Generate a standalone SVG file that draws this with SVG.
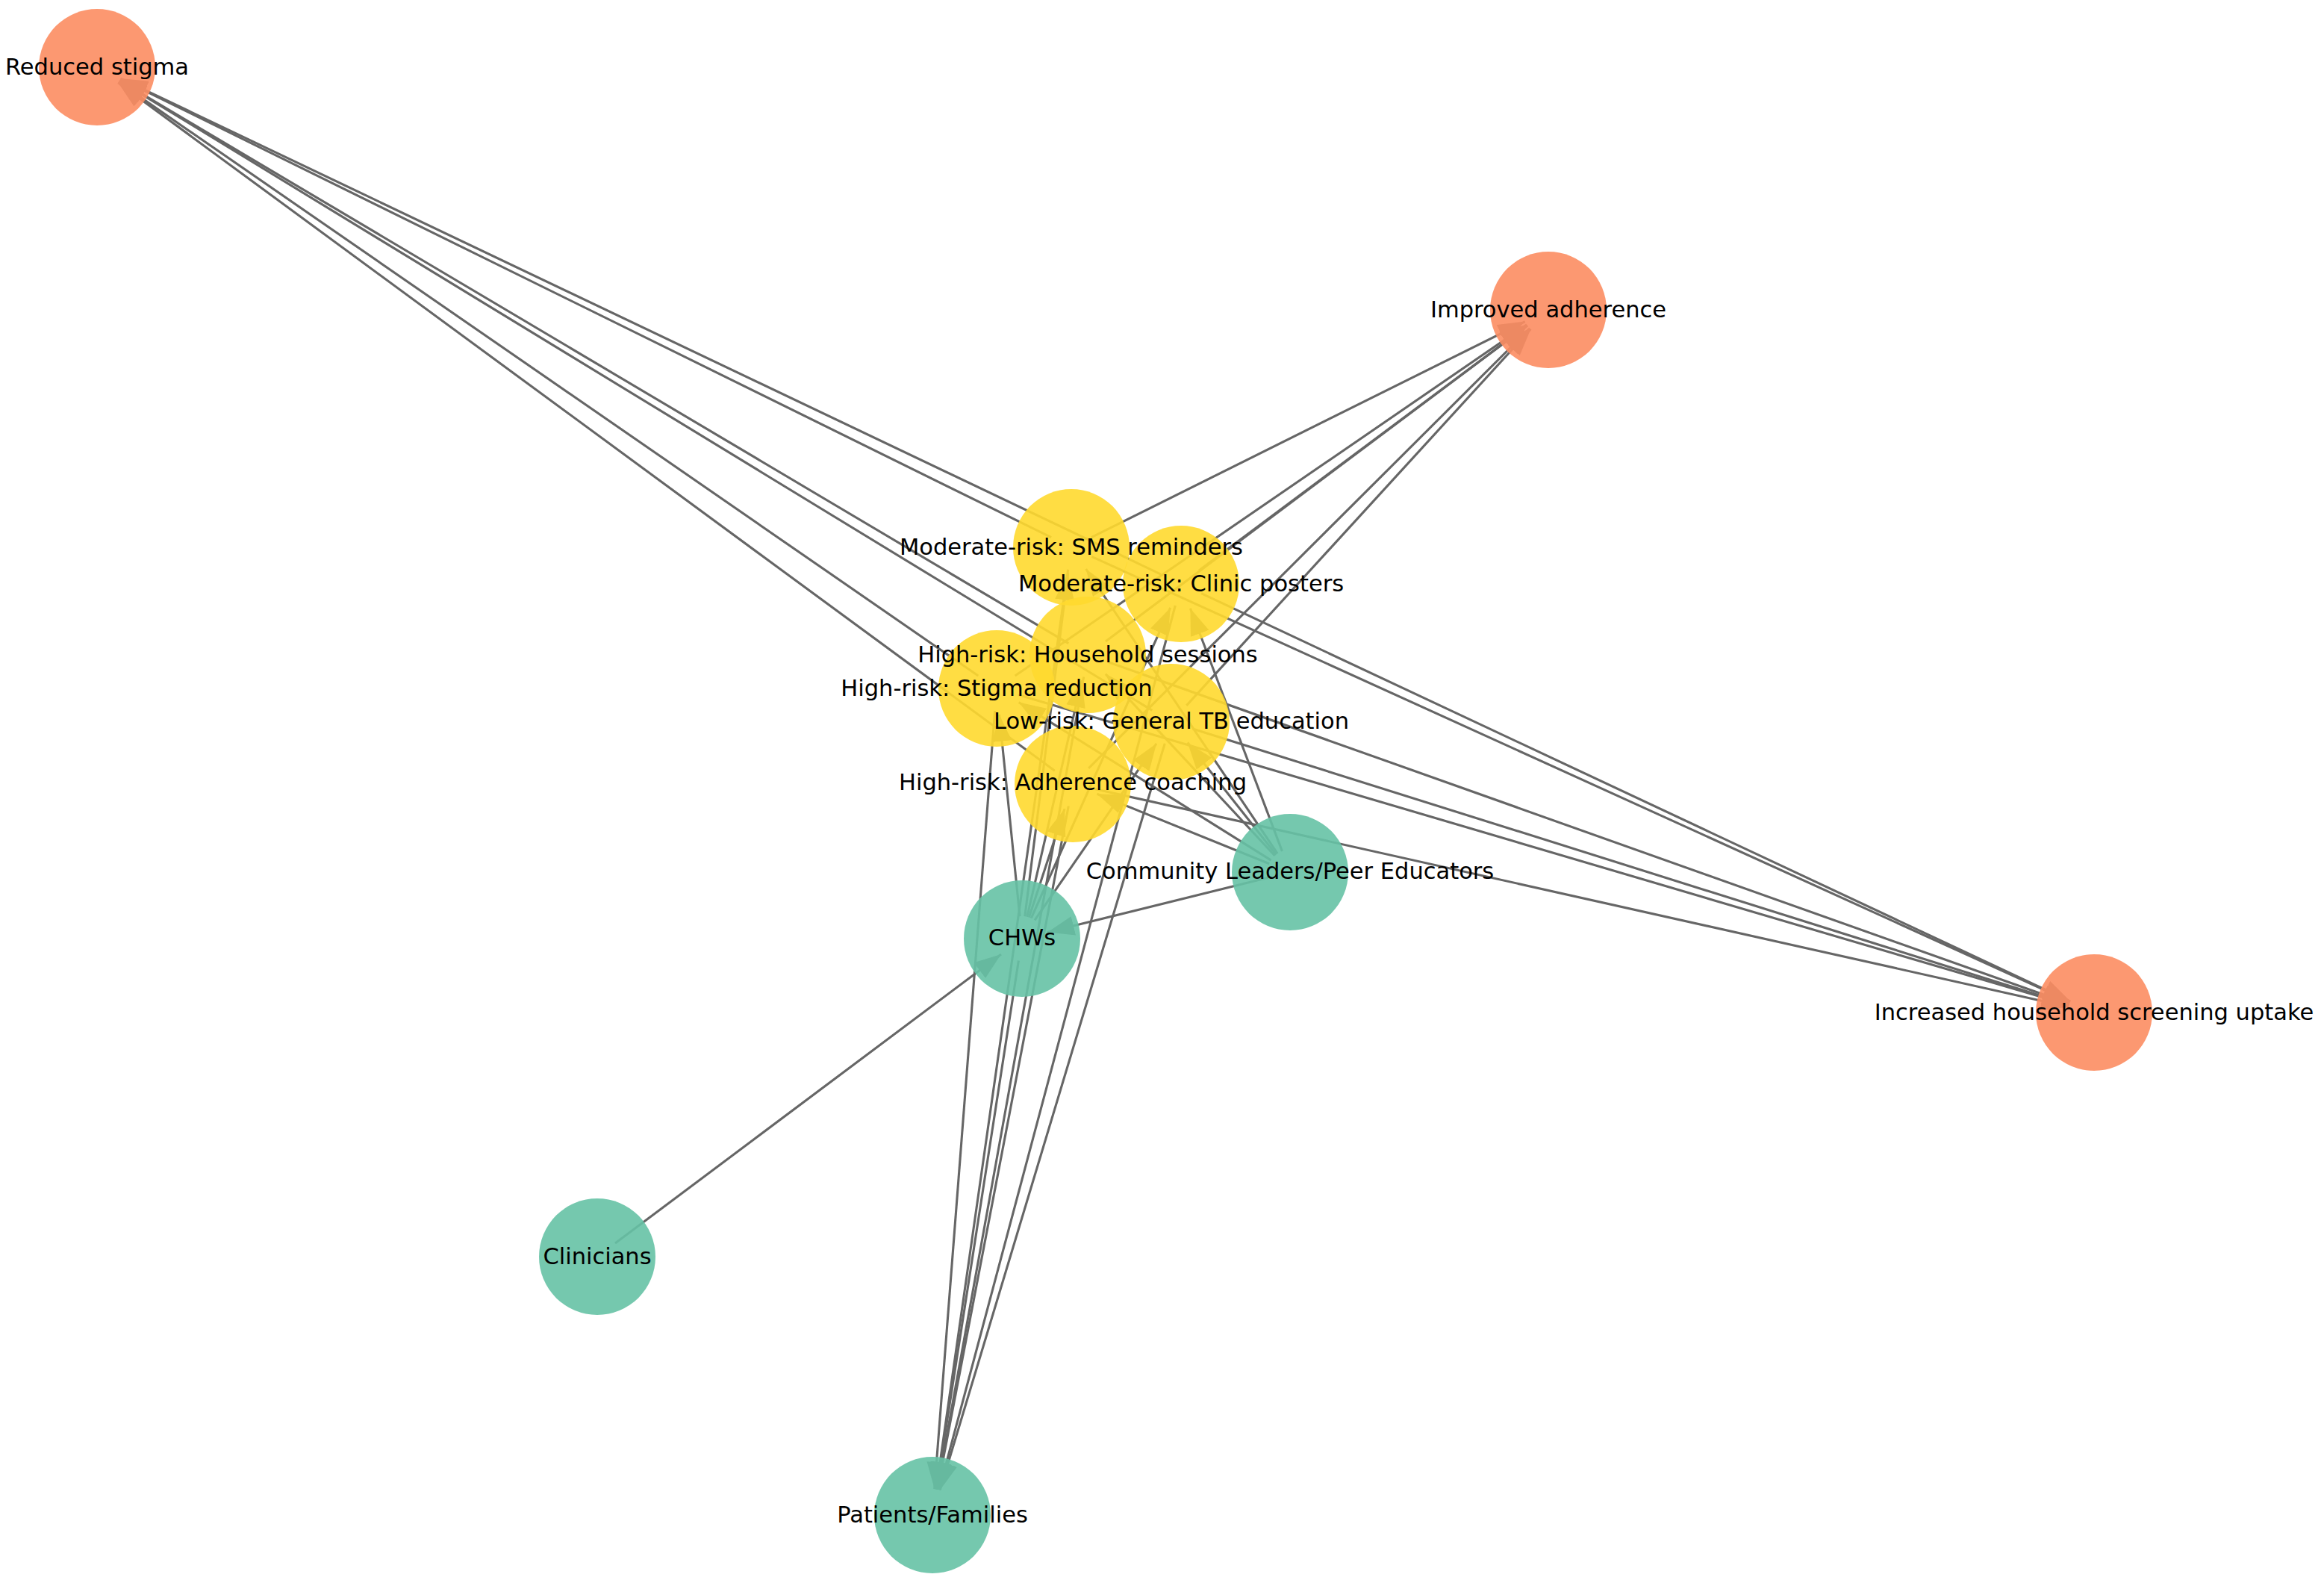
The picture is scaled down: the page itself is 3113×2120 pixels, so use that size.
<svg xmlns="http://www.w3.org/2000/svg" width="3113" height="2120" viewBox="0 0 3113 2120">
<style>
.edge{stroke:#666666;stroke-width:3.1;fill:none;marker-end:url(#arr)}
.out{fill:#fc8d62;fill-opacity:0.9}
.int{fill:#ffd92f;fill-opacity:0.9}
.stk{fill:#66c2a5;fill-opacity:0.9}
.lbl{font-family:"DejaVu Sans","Liberation Sans",sans-serif;font-size:30.5px;fill:#000;text-anchor:middle}
</style>
<defs>
<marker id="arr" markerUnits="userSpaceOnUse" markerWidth="38" markerHeight="28" refX="36" refY="13" orient="auto" viewBox="0 0 38 28">
<path d="M0,0 L36,13 L0,26 z" fill="#666666"/>
</marker>
</defs>
<rect width="3113" height="2120" fill="#ffffff"/>
<g id="edges">
<line class="edge" x1="1408.1" y1="719.7" x2="161.4" y2="105.5"/>
<line class="edge" x1="1554.9" y1="769.1" x2="161.6" y2="105.1"/>
<line class="edge" x1="1431.2" y1="861.7" x2="160.1" y2="107.9"/>
<line class="edge" x1="1310.3" y1="905.0" x2="158.8" y2="109.9"/>
<line class="edge" x1="1543.4" y1="951.4" x2="159.9" y2="108.2"/>
<line class="edge" x1="1412.8" y1="1032.2" x2="158.2" y2="110.7"/>
<line class="edge" x1="1461.9" y1="719.6" x2="2042.7" y2="430.6"/>
<line class="edge" x1="1606.0" y1="764.1" x2="2045.9" y2="435.9"/>
<line class="edge" x1="1481.0" y1="859.0" x2="2046.0" y2="436.0"/>
<line class="edge" x1="1359.7" y1="905.0" x2="2045.1" y2="434.8"/>
<line class="edge" x1="1589.3" y1="944.9" x2="2050.4" y2="440.8"/>
<line class="edge" x1="1458.2" y1="1028.8" x2="2049.2" y2="439.7"/>
<line class="edge" x1="1462.3" y1="745.4" x2="2773.1" y2="1341.5"/>
<line class="edge" x1="1609.2" y1="794.7" x2="2773.3" y2="1341.1"/>
<line class="edge" x1="1485.3" y1="887.0" x2="2772.0" y2="1344.3"/>
<line class="edge" x1="1363.8" y1="930.5" x2="2771.4" y2="1346.1"/>
<line class="edge" x1="1597.6" y1="976.0" x2="2771.6" y2="1345.5"/>
<line class="edge" x1="1466.3" y1="1056.5" x2="2770.8" y2="1348.4"/>
<line class="edge" x1="1430.7" y1="762.7" x2="1254.0" y2="1994.4"/>
<line class="edge" x1="1574.3" y1="811.0" x2="1258.0" y2="1995.2"/>
<line class="edge" x1="1451.7" y1="906.5" x2="1255.2" y2="1994.6"/>
<line class="edge" x1="1332.7" y1="951.9" x2="1251.7" y2="1994.1"/>
<line class="edge" x1="1560.3" y1="995.7" x2="1259.1" y2="1995.5"/>
<line class="edge" x1="1431.3" y1="1079.5" x2="1255.6" y2="1994.6"/>
<line class="edge" x1="1372.8" y1="1227.2" x2="1430.6" y2="767.7"/>
<line class="edge" x1="1381.3" y1="1229.6" x2="1567.7" y2="813.9"/>
<line class="edge" x1="1375.8" y1="1227.8" x2="1449.1" y2="911.1"/>
<line class="edge" x1="1366.0" y1="1227.2" x2="1338.5" y2="956.8"/>
<line class="edge" x1="1386.0" y1="1232.3" x2="1549.1" y2="995.8"/>
<line class="edge" x1="1378.4" y1="1228.5" x2="1426.1" y2="1083.3"/>
<line class="edge" x1="1711.2" y1="1143.1" x2="1454.6" y2="762.0"/>
<line class="edge" x1="1717.4" y1="1139.9" x2="1594.4" y2="814.7"/>
<line class="edge" x1="1707.6" y1="1146.0" x2="1480.9" y2="902.6"/>
<line class="edge" x1="1702.6" y1="1152.1" x2="1364.7" y2="940.6"/>
<line class="edge" x1="1709.4" y1="1144.5" x2="1590.7" y2="994.5"/>
<line class="edge" x1="1700.2" y1="1156.7" x2="1469.4" y2="1063.2"/>
<line class="edge" x1="824.0" y1="1665.0" x2="1341.0" y2="1278.0"/>
<line class="edge" x1="1698.9" y1="1175.2" x2="1403.0" y2="1248.6"/>
<line class="edge" x1="1364.4" y1="1286.6" x2="1254.4" y2="1994.4"/>
</g>
<g id="node-reduced-stigma"><circle class="out" cx="130" cy="90" r="78"/><text class="lbl" x="130" y="100">Reduced stigma</text></g>
<g id="node-improved-adherence"><circle class="out" cx="2074" cy="415" r="78"/><text class="lbl" x="2074" y="425">Improved adherence</text></g>
<g id="node-increased-household"><circle class="out" cx="2805" cy="1356" r="78"/><text class="lbl" x="2805" y="1366">Increased household screening uptake</text></g>
<g id="node-sms"><circle class="int" cx="1435" cy="733" r="78"/></g>
<g id="node-clinic-posters"><circle class="int" cx="1582" cy="782" r="78"/></g>
<g id="node-household-sessions"><circle class="int" cx="1457" cy="877" r="78"/></g>
<g id="node-stigma-reduction"><circle class="int" cx="1335" cy="922" r="78"/></g>
<g id="node-general-tb"><circle class="int" cx="1569" cy="967" r="78"/></g>
<g id="node-adherence-coaching"><circle class="int" cx="1437" cy="1050" r="78"/></g>
<g id="node-community-leaders"><circle class="stk" cx="1728" cy="1168" r="78"/></g>
<g id="node-chws"><circle class="stk" cx="1369" cy="1257" r="78"/></g>
<g id="node-clinicians"><circle class="stk" cx="800" cy="1683" r="78"/><text class="lbl" x="800" y="1693">Clinicians</text></g>
<g id="node-patients"><circle class="stk" cx="1249" cy="2029" r="78"/><text class="lbl" x="1249" y="2039">Patients/Families</text></g>
<g id="labels">
<text class="lbl" x="1435" y="743">Moderate-risk: SMS reminders</text>
<text class="lbl" x="1582" y="792">Moderate-risk: Clinic posters</text>
<text class="lbl" x="1457" y="887">High-risk: Household sessions</text>
<text class="lbl" x="1335" y="932">High-risk: Stigma reduction</text>
<text class="lbl" x="1569" y="976">Low-risk: General TB education</text>
<text class="lbl" x="1437" y="1058">High-risk: Adherence coaching</text>
<text class="lbl" x="1728" y="1177">Community Leaders/Peer Educators</text>
<text class="lbl" x="1369" y="1266">CHWs</text>
</g>
</svg>
